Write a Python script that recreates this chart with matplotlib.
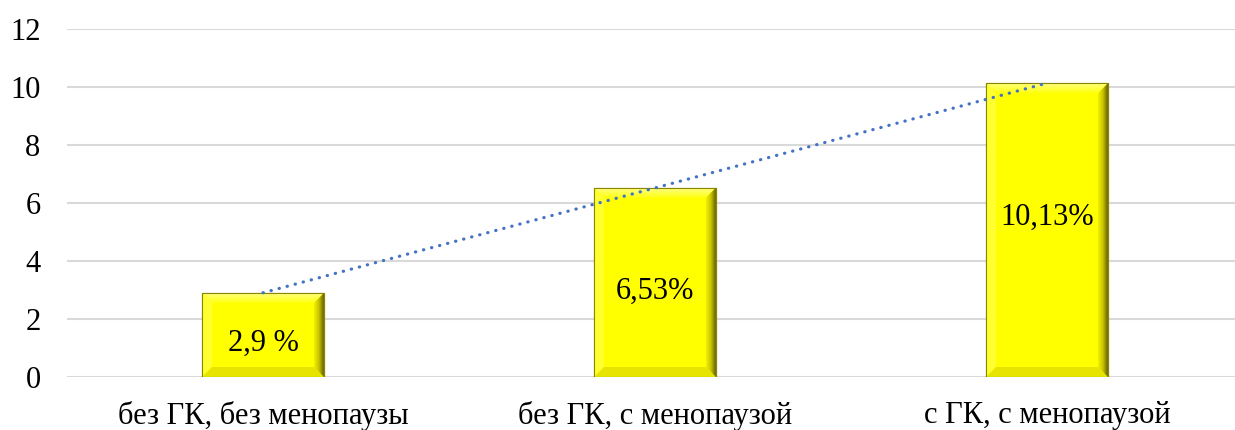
import matplotlib.pyplot as plt
import numpy as np
from matplotlib.patches import Polygon, Rectangle
from matplotlib.colors import LinearSegmentedColormap

# данные
categories = ['без ГК, без менопаузы', 'без ГК, с менопаузой', 'с ГК, с менопаузой']
values = [2.9, 6.53, 10.13]
value_labels = ['2,9 %', '6,53%', '10,13%']
label_y = [1.17, 2.97, 5.52]

plt.rcParams['font.family'] = ['Liberation Serif', 'DejaVu Serif']

fig = plt.figure(figsize=(12.35, 4.3), dpi=100)
ax = fig.add_axes([67 / 1235, 53 / 430, 1176 / 1235, 348 / 430])

x = np.arange(len(categories))
width = 0.311
ax.set_xlim(-0.5, len(categories) - 0.5)
ax.set_ylim(0, 12)

# сетка
ax.set_yticks(np.arange(0, 13, 2))
ax.yaxis.grid(True, color='#d9d9d9', linewidth=1.5)
ax.set_axisbelow(True)
for s in ax.spines.values():
    s.set_visible(False)
ax.tick_params(axis='both', length=0, labelsize=22)
ax.tick_params(axis='y', pad=19)
ax.tick_params(axis='x', pad=17)
ax.set_xticks(x)
ax.set_xticklabels(categories)

# размер фаски в единицах данных (~10 px)
bev = 10
dx = bev / (1176 / 3)
dy = bev / (348 / 12)

right_cmap = LinearSegmentedColormap.from_list('r', ['#f2f000', '#c8c400', '#666200'])
top_cmap = LinearSegmentedColormap.from_list('t', ['#ffff10', '#ffff80'])

bars = ax.bar(x, values, width, color='#ffff00', edgecolor='#8a8600', linewidth=0.8, zorder=2)
for b in bars:
    x0, y0 = b.get_x(), b.get_y()
    x1, y1 = x0 + b.get_width(), y0 + b.get_height()
    # верхняя фаска
    top = Polygon([(x0, y1), (x1, y1), (x1 - dx, y1 - dy), (x0 + dx, y1 - dy)],
                  closed=True, facecolor='none', edgecolor='none', zorder=3)
    ax.add_patch(top)
    im = ax.imshow(np.linspace(0, 1, 50).reshape(-1, 1), cmap=top_cmap, aspect='auto',
                   extent=(x0, x1, y1 - dy, y1), origin='lower', zorder=3)
    im.set_clip_path(top)
    # левая фаска
    ax.add_patch(Polygon([(x0, y0), (x0, y1), (x0 + dx, y1 - dy), (x0 + dx, y0 + dy)],
                         closed=True, facecolor='#ffff30', edgecolor='none', zorder=3))
    # нижняя фаска
    ax.add_patch(Polygon([(x0, y0), (x1, y0), (x1 - dx, y0 + dy), (x0 + dx, y0 + dy)],
                         closed=True, facecolor='#e6e400', edgecolor='none', zorder=3))
    # правая фаска с затемнением
    right = Polygon([(x1, y0), (x1, y1), (x1 - dx, y1 - dy), (x1 - dx, y0 + dy)],
                    closed=True, facecolor='none', edgecolor='none', zorder=3)
    ax.add_patch(right)
    im = ax.imshow(np.linspace(0, 1, 50).reshape(1, -1), cmap=right_cmap, aspect='auto',
                   extent=(x1 - dx, x1, y0, y1), zorder=3)
    im.set_clip_path(right)
    ax.add_patch(Rectangle((x0, y0), x1 - x0, y1 - y0, facecolor='none',
                           edgecolor='#8a8600', linewidth=0.8, zorder=4))

ax.set_xlim(-0.5, len(categories) - 0.5)
ax.set_ylim(0, 12)

# линейный тренд
k, c = np.polyfit(x, values, 1)
ax.plot(x, k * x + c, color='#4472c4', linewidth=2.3, linestyle=(0, (0.1, 2.5)),
        dash_capstyle='round', zorder=5)

for xi, yl, t in zip(x, label_y, value_labels):
    ax.text(xi, yl, t, ha='center', va='center', fontsize=22, zorder=6)

fig.savefig('out.png', dpi=100)
